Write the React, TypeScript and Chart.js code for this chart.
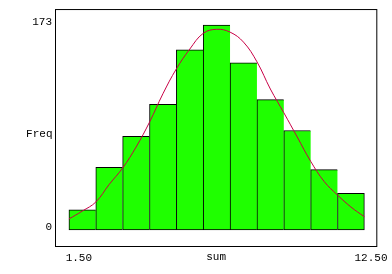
import React, { useEffect, useRef } from "react";
import { Chart, registerables } from "chart.js";

Chart.register(...registerables);

// Histogram bins (centres of the "sum" bins) and frequencies
const binCenters = [2, 3, 4, 5, 6, 7, 8, 9, 10, 11, 12];
const freq = [17, 53, 79, 106, 152, 173, 141, 110, 84, 51, 31];

// Fitted curve
const curveX = [1.5, 2, 2.5, 3, 3.5, 4, 4.5, 5, 5.5, 6, 6.5, 7, 7.5, 8, 8.5, 9, 9.5, 10, 10.5, 11, 11.5, 12, 12.5];
const curveY = [9.3, 16, 23.6, 38.5, 52.3, 70, 91, 115, 136, 152.7, 166, 169.4, 167, 158.6, 142, 119, 99, 78.5, 58, 41, 29.5, 19.4, 11.2];

// Axis ticks and titles
const xTickValues = [1.5, 12.5];
const xTickLabels = ["1.50", "12.50"];
const yTickValues = [0, 173];
const yTickLabels = ["0", "173"];
const xTitle = "sum";
const yTitle = "Freq";

const FONT = '"Liberation Mono", "Courier New", monospace';

const framePlugin = {
  id: "frameAndTitle",
  afterDraw(chart: any) {
    const { ctx, chartArea } = chart;
    const { left, top, right, bottom } = chartArea;
    ctx.save();
    ctx.strokeStyle = "#000";
    ctx.lineWidth = 1;
    ctx.strokeRect(left + 0.5, top + 0.5, right - left - 1, bottom - top - 1);
    ctx.font = `11px ${FONT}`;
    ctx.fillStyle = "#000";
    ctx.textAlign = "right";
    ctx.textBaseline = "alphabetic";
    ctx.fillText(yTitle, left - 2.5, (top + bottom) / 2 + 9);
    ctx.restore();
  },
};

export default function App() {
  const canvasRef = useRef<HTMLCanvasElement | null>(null);

  useEffect(() => {
    if (!canvasRef.current) return;
    const last = freq.length - 1;
    const chart = new Chart(canvasRef.current, {
      type: "bar",
      data: {
        datasets: [
          {
            type: "line",
            label: "fit",
            data: curveX.map((x, i) => ({ x, y: curveY[i] })),
            borderColor: "#c80046",
            borderWidth: 1,
            pointRadius: 0,
            tension: 0.4,
            fill: false,
            order: 0,
          } as any,
          {
            type: "bar",
            label: yTitle,
            data: binCenters.map((x, i) => ({ x, y: freq[i] })),
            backgroundColor: "#1fff00",
            borderColor: "#000",
            borderSkipped: false,
            borderWidth: (c: any) => ({
              left: 1,
              top: 1,
              bottom: 1,
              right: c.dataIndex === last ? 1 : 0,
            }),
            barPercentage: 1,
            categoryPercentage: 1,
            order: 1,
          } as any,
        ],
      },
      options: {
        animation: false,
        responsive: false,
        devicePixelRatio: 1,
        layout: { padding: { top: 9, right: 13, left: 0, bottom: 0 } },
        plugins: {
          legend: { display: false },
          tooltip: { enabled: false },
        },
        scales: {
          x: {
            type: "linear",
            offset: false,
            min: 1.5 - 14 / 27,
            max: 1.5 - 14 / 27 + 12,
            grid: { display: false, drawTicks: false },
            border: { display: false },
            afterBuildTicks: (s: any) => {
              s.ticks = xTickValues.map((v) => ({ value: v }));
            },
            afterFit: (s: any) => {
              s.height = 27;
            },
            ticks: {
              autoSkip: false,
              maxRotation: 0,
              padding: 4,
              color: "#000",
              font: { family: FONT, size: 11 },
              callback: (_v: any, i: number) =>
                (i === 0 ? "   " : "  ") + xTickLabels[i],
            },
            title: {
              display: true,
              text: xTitle,
              color: "#000",
              font: { family: FONT, size: 11 },
              padding: { top: 0, bottom: 10 },
            },
          },
          y: {
            type: "linear",
            min: -14.35,
            max: 186.5,
            grid: { display: false, drawTicks: false },
            border: { display: false },
            afterBuildTicks: (s: any) => {
              s.ticks = yTickValues.map((v) => ({ value: v }));
            },
            afterFit: (s: any) => {
              s.width = 55;
            },
            ticks: {
              autoSkip: false,
              padding: 3,
              color: "#000",
              font: { family: FONT, size: 11, lineHeight: 0.55 },
              callback: (_v: any, i: number) => [yTickLabels[i], ""],
            },
          },
        },
      } as any,
      plugins: [framePlugin],
    });
    return () => chart.destroy();
  }, []);

  return (
    <div style={{ position: "fixed", left: 0, top: 0, width: 392, height: 274, background: "#fff" }}>
      <canvas ref={canvasRef} width={392} height={274} />
    </div>
  );
}
